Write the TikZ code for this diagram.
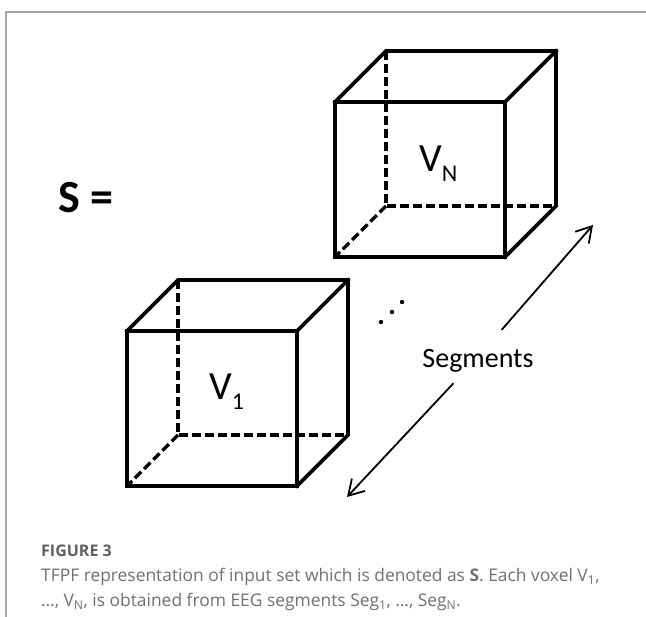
\documentclass[tikz,border=0pt]{standalone}
\usepackage{fontspec}
\setmainfont{Carlito}
\newfontfamily\capfont{Open Sans}
\usepackage{xcolor}
\definecolor{frameline}{RGB}{165,165,165}
\definecolor{captxt}{RGB}{112,112,112}
\definecolor{figtxt}{RGB}{95,95,95}
\usepackage{tikz}
\usetikzlibrary{arrows.meta,positioning,calc}
\tikzset{
  edge/.style={line width=3.6pt,line join=miter,line cap=rect},
  hidden/.style={line width=3.2pt,dash pattern=on 9pt off 4pt},
  segarrow/.style={-{Straight Barb[length=15pt,width=18pt,line width=1.8pt]},%
    line width=1.8pt},
  vlabel/.style={font=\fontsize{40}{40}\selectfont,inner sep=0pt,anchor=base west},
  setlabel/.style={font=\fontsize{46}{46}\selectfont\bfseries,inner sep=0pt,anchor=base west},
  segtext/.style={font=\fontsize{28}{28}\selectfont,inner sep=0pt,anchor=base},
  figlabel/.style={font=\capfont\fontsize{16}{16}\selectfont\bfseries,text=figtxt,%
    inner sep=0pt,anchor=base west},
  captext/.style={font=\capfont\fontsize{17.4}{17.4}\selectfont,text=captxt,%
    inner sep=0pt,anchor=base west},
}
\newcommand{\sub}[1]{\raisebox{-10pt}{\fontsize{24}{24}\selectfont #1}}

\begin{document}
\begin{tikzpicture}[x=1pt,y=-1pt]
\useasboundingbox (0,0) rectangle (646,617);
% panel border
\draw[frameline,line width=1.5pt] (6,617) -- (6,12) -- (646,12);
% the two voxels
\foreach \x/\y in {127/331, 335/102}{
  \draw[hidden] (\x+51,\y-51) -- ++(0,155) -- ++(170,0);
  \draw[hidden] (\x+51,\y+104) -- (\x,\y+155);
  \draw[edge] (\x,\y) rectangle ++(170,155);
  \draw[edge] (\x,\y) -- ++(51,-51) -- ++(170,0) -- ++(0,155) -- ++(-51,51);
  \draw[edge] (\x+170,\y) -- ++(51,-51);
}
\node[vlabel] (vone) at (209,400) {V\sub{1}};
\node[vlabel] (vn) at (419,172) {V\sub{N}};
\node[setlabel] (set) at (58,213) {S =};
% dots between voxels
\foreach \p in {(381,322),(392,312),(402,302)}
  \fill \p circle (2.2pt);
% segment axis
\node[segtext] (seg) at (478,368) {Segments};
\coordinate (segc) at (478,357);
\coordinate (up) at (593,225);
\coordinate (dn) at (347,497);
\draw[segarrow,shorten <=36pt] (segc) -- (up);
\draw[segarrow,shorten <=36pt] (segc) -- (dn);
% caption
\node[figlabel] (fig) at (41,557) {FIGURE 3};
\node[captext] (capa) at (41,582) {TFPF representation of input set which is denoted as \textbf{S}. Each voxel V\textsubscript{1},};
\node[captext] (capb) at (41,607) {…, V\textsubscript{N}, is obtained from EEG segments Seg\textsubscript{1}, …, Seg\textsubscript{N}.};
\end{tikzpicture}
\end{document}
